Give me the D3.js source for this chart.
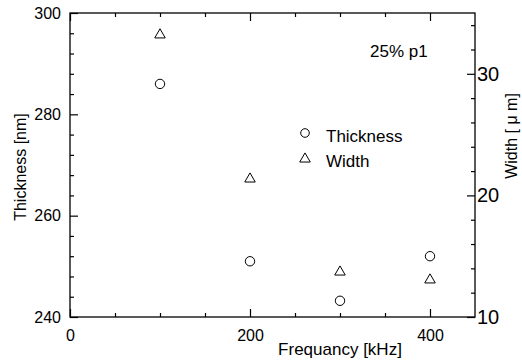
<!DOCTYPE html>
<html>
<head>
<meta charset="utf-8">
<script src="https://cdn.jsdelivr.net/npm/d3@7"></script>
<style>
  body { margin: 0; background: #fff; }
  svg { display: block; font-family: Arial, "Liberation Sans", sans-serif; }
  .domain { display: none; }
</style>
</head>
<body>
<svg id="chart" width="522" height="361"></svg>
<script>
// data
const frequency = [100, 200, 300, 400];
const thickness = [286, 251, 243.2, 252];
const widthUm = [33.2, 21.35, 13.7, 13.05];

const xTicks = [0, 200, 400];
const xMinor = [50, 100, 150, 250, 300, 350];
const leftTicks = [240, 260, 280, 300];
const leftMinor = [244, 248, 252, 256, 264, 268, 272, 276, 284, 288, 292, 296];
const rightTicks = [10, 20, 30];
const rightMinor = [12, 14, 16, 18, 22, 24, 26, 28, 32, 34];

const legendLabels = ['Thickness', 'Width'];

const svg = d3.select('#chart');

const plotLeft = 70, plotRight = 475, plotTop = 13, plotBottom = 317;

const x = d3.scaleLinear().domain([0, 450]).range([plotLeft, plotRight]);
const yL = d3.scaleLinear().domain([240, 300]).range([plotBottom, plotTop]);
const yR = d3.scaleLinear().domain([10, 35]).range([plotBottom, plotTop]);

function styleAxis(g, size) {
  g.selectAll('.tick line').attr('stroke', '#000').attr('stroke-width', 1.2);
  g.selectAll('.tick text').attr('fill', '#000').style('font-size', size + 'px');
}

// frame
svg.append('rect')
  .attr('x', plotLeft).attr('y', plotTop)
  .attr('width', plotRight - plotLeft).attr('height', plotBottom - plotTop)
  .attr('fill', 'none').attr('stroke', '#000').attr('stroke-width', 1.3);

// bottom axis
svg.append('g')
  .attr('transform', `translate(0, ${plotBottom})`)
  .call(d3.axisBottom(x).tickValues(xTicks).tickSize(-8).tickPadding(13).tickFormat(d3.format('d')))
  .call(g => styleAxis(g, 16));
svg.append('g')
  .attr('transform', `translate(0, ${plotBottom})`)
  .call(d3.axisBottom(x).tickValues(xMinor).tickSize(-4).tickFormat(''))
  .call(g => styleAxis(g, 16));

// top axis
svg.append('g')
  .attr('transform', `translate(0, ${plotTop})`)
  .call(d3.axisTop(x).tickValues(xTicks).tickSize(-8).tickFormat(''))
  .call(g => styleAxis(g, 16));
svg.append('g')
  .attr('transform', `translate(0, ${plotTop})`)
  .call(d3.axisTop(x).tickValues(xMinor).tickSize(-4).tickFormat(''))
  .call(g => styleAxis(g, 16));

// left axis
svg.append('g')
  .attr('transform', `translate(${plotLeft}, 0)`)
  .call(d3.axisLeft(yL).tickValues(leftTicks).tickSize(-8).tickPadding(9).tickFormat(d3.format('d')))
  .call(g => styleAxis(g, 16));
svg.append('g')
  .attr('transform', `translate(${plotLeft}, 0)`)
  .call(d3.axisLeft(yL).tickValues(leftMinor).tickSize(-4).tickFormat(''))
  .call(g => styleAxis(g, 16));

// right axis
svg.append('g')
  .attr('transform', `translate(${plotRight}, 0)`)
  .call(d3.axisRight(yR).tickValues(rightTicks).tickSize(-8).tickPadding(2).tickFormat(d3.format('d')))
  .call(g => styleAxis(g, 20));
svg.append('g')
  .attr('transform', `translate(${plotRight}, 0)`)
  .call(d3.axisRight(yR).tickValues(rightMinor).tickSize(-4).tickFormat(''))
  .call(g => styleAxis(g, 20));

// axis titles
svg.append('text')
  .attr('x', 340).attr('y', 355)
  .attr('text-anchor', 'middle')
  .style('font-size', '17px')
  .text('Frequancy [kHz]');

svg.append('text')
  .attr('transform', 'translate(26, 167) rotate(-90)')
  .attr('text-anchor', 'middle')
  .style('font-size', '16px')
  .text('Thickness [nm]');

svg.append('text')
  .attr('transform', 'translate(517, 136) rotate(-90)')
  .attr('text-anchor', 'middle')
  .style('font-size', '16px')
  .text('Width [ \u03bc m]');

svg.append('text')
  .attr('x', 370).attr('y', 57)
  .style('font-size', '17px')
  .text('25% p1');

// markers
const tri = d3.symbol().type(d3.symbolTriangle).size(48);

svg.append('g').selectAll('circle')
  .data(frequency)
  .enter()
  .append('circle')
  .attr('cx', d => x(d))
  .attr('cy', (d, i) => yL(thickness[i]))
  .attr('r', 4.7)
  .attr('fill', 'none')
  .attr('stroke', '#000')
  .attr('stroke-width', 1);

svg.append('g').selectAll('path')
  .data(frequency)
  .enter()
  .append('path')
  .attr('d', tri)
  .attr('transform', (d, i) => `translate(${x(d)}, ${yR(widthUm[i])})`)
  .attr('fill', 'none')
  .attr('stroke', '#000')
  .attr('stroke-width', 1);

// legend
const legend = svg.append('g').attr('transform', 'translate(305, 133)');
legend.append('circle')
  .attr('cx', 0).attr('cy', 0).attr('r', 4.3)
  .attr('fill', 'none').attr('stroke', '#000');
legend.append('path')
  .attr('d', tri)
  .attr('transform', 'translate(0, 26)')
  .attr('fill', 'none').attr('stroke', '#000');
legend.selectAll('text')
  .data(legendLabels)
  .enter()
  .append('text')
  .attr('x', 21)
  .attr('y', (d, i) => 9 + i * 25)
  .style('font-size', '17px')
  .text(d => d);
</script>
</body>
</html>
